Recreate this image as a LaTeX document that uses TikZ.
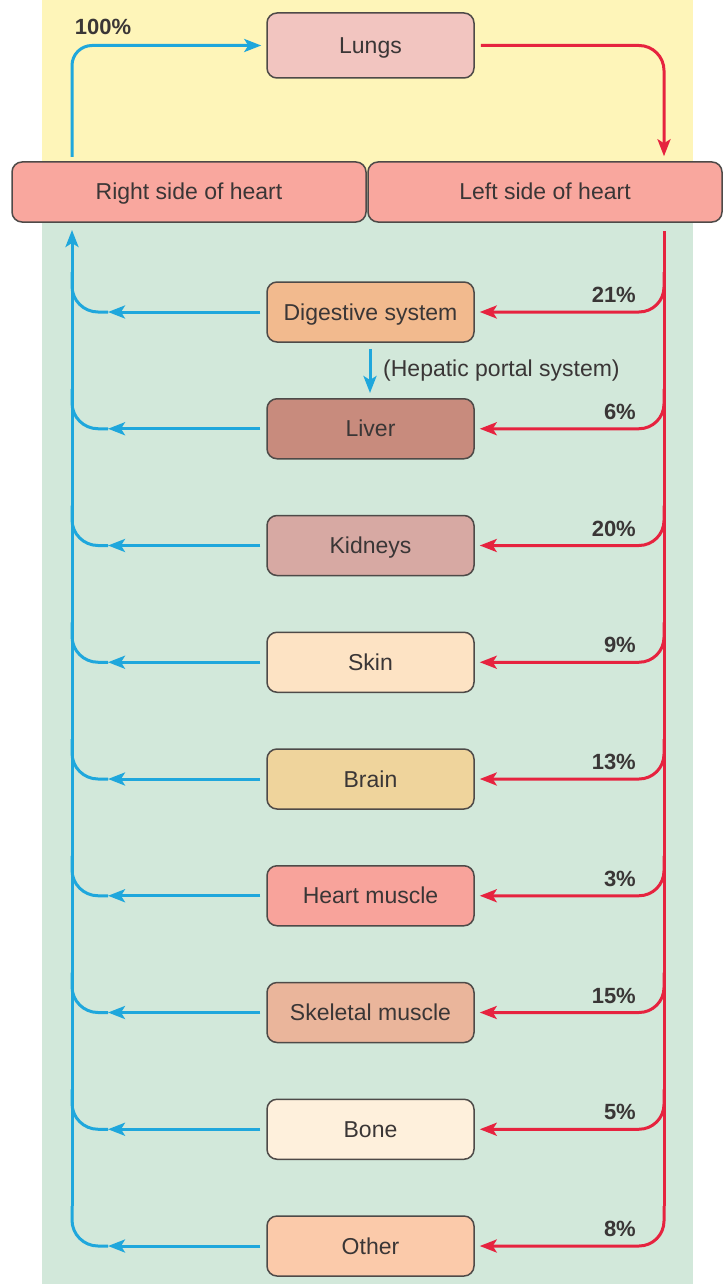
\documentclass[tikz,border=0pt]{standalone}
\usepackage{fontspec}
\setmainfont{Liberation Sans}
\usetikzlibrary{arrows.meta}
\definecolor{bgyellow}{HTML}{FEF5B9}
\definecolor{bggreen}{HTML}{D2E8DA}
\definecolor{boxline}{HTML}{4E4A48}
\definecolor{txt}{HTML}{3A3636}
\definecolor{vein}{HTML}{1FA7DC}
\definecolor{artery}{HTML}{E6233F}
\definecolor{cLungs}{HTML}{F2C5C0}
\definecolor{cHeart}{HTML}{F9A79E}
\definecolor{cDig}{HTML}{F2BA8E}
\definecolor{cLiver}{HTML}{C88B7D}
\definecolor{cKid}{HTML}{D7A9A3}
\definecolor{cSkin}{HTML}{FDE3C4}
\definecolor{cBrain}{HTML}{EFD49C}
\definecolor{cHM}{HTML}{F8A39B}
\definecolor{cSkel}{HTML}{EAB59B}
\definecolor{cBone}{HTML}{FEF0DC}
\definecolor{cOther}{HTML}{FBCAAA}
\begin{document}
\begin{tikzpicture}[x=1pt,y=-1pt,
  organ/.style={draw=boxline, line width=1.5pt, rounded corners=10pt,
    minimum width=207pt, minimum height=60pt, inner sep=0pt,
    text height=19pt, text depth=3pt,
    font=\fontsize{23}{27}\selectfont, text=txt},
  heartbox/.style={organ, fill=cHeart, minimum width=354pt},
  pct/.style={font=\bfseries\fontsize{22}{26}\selectfont, text=txt, anchor=east, inner sep=0pt},
  tip/.style={-{Stealth[length=17pt,width=13pt,inset=4pt]}},
  blueline/.style={draw=vein, line width=3pt},
  redline/.style={draw=artery, line width=3pt}]
\useasboundingbox (0,0) rectangle (725,1284);
% backgrounds: pulmonary (yellow) and systemic (green) circuits
\fill[bgyellow] (42,0) rectangle (693,192);
\fill[bggreen] (42,192) rectangle (693,1284);

% lungs and heart
\node[organ, fill=cLungs, minimum height=65pt] (lungs) at (370.5,45.5) {Lungs};
\node[heartbox] (rheart) at (189,192) {Right side of heart};
\node[heartbox] (lheart) at (545,192) {Left side of heart};

% trunk positions
\coordinate (vtop) at (72,157);
\coordinate (vend) at (72,230);
\coordinate (vbot) at (72,1206);
\coordinate (atop) at (664,231);
\coordinate (abot) at (664,1206);

% pulmonary circuit
\draw[blueline, tip, rounded corners=20pt, shorten >=5pt] (vtop) |- (lungs.west);
\node[pct, anchor=center] at (103,27) {100\%};
\draw[redline, tip, rounded corners=25pt, shorten <=6pt, shorten >=5pt]
  (lungs.east) -| (lheart.north -| atop);

% systemic trunks
\draw[redline] (atop) -- (abot);
\draw[blueline, tip] (vbot) -- (vend);

% organs with their branches
\foreach \nm/\col/\lab/\pc [count=\i from 0] in {
    dig/cDig/Digestive system/21\%,
    liver/cLiver/Liver/6\%,
    kid/cKid/Kidneys/20\%,
    skin/cSkin/Skin/9\%,
    brain/cBrain/Brain/13\%,
    hm/cHM/Heart muscle/3\%,
    skel/cSkel/Skeletal muscle/15\%,
    bone/cBone/Bone/5\%,
    other/cOther/Other/8\%}{
  \pgfmathsetmacro\yy{312+116.75*\i}
  \node[organ, fill=\col] (\nm) at (370.5,\yy) {\lab};
  \node[pct] at (636,\yy-17) {\pc};
  \coordinate (a\i) at (664,\yy-40);
  \coordinate (v\i) at (72,\yy-40);
  \coordinate (m\i) at (108,\yy);
  \draw[redline, tip, rounded corners=25pt, shorten >=5pt] (a\i) |- (\nm.east);
  \draw[blueline, tip, shorten <=6pt] (\nm.west) -- (m\i);
  \draw[blueline, rounded corners=26pt] (m\i) -| (v\i);
}

% hepatic portal system
\draw[blueline, tip, shorten <=6pt, shorten >=5pt] (dig.south -| 370,0) -- (liver.north -| 370,0);
\node[anchor=west, font=\fontsize{23}{27}\selectfont, text=txt, inner sep=0pt] (hep) at (383,371) {(Hepatic portal system)};
\end{tikzpicture}
\end{document}
